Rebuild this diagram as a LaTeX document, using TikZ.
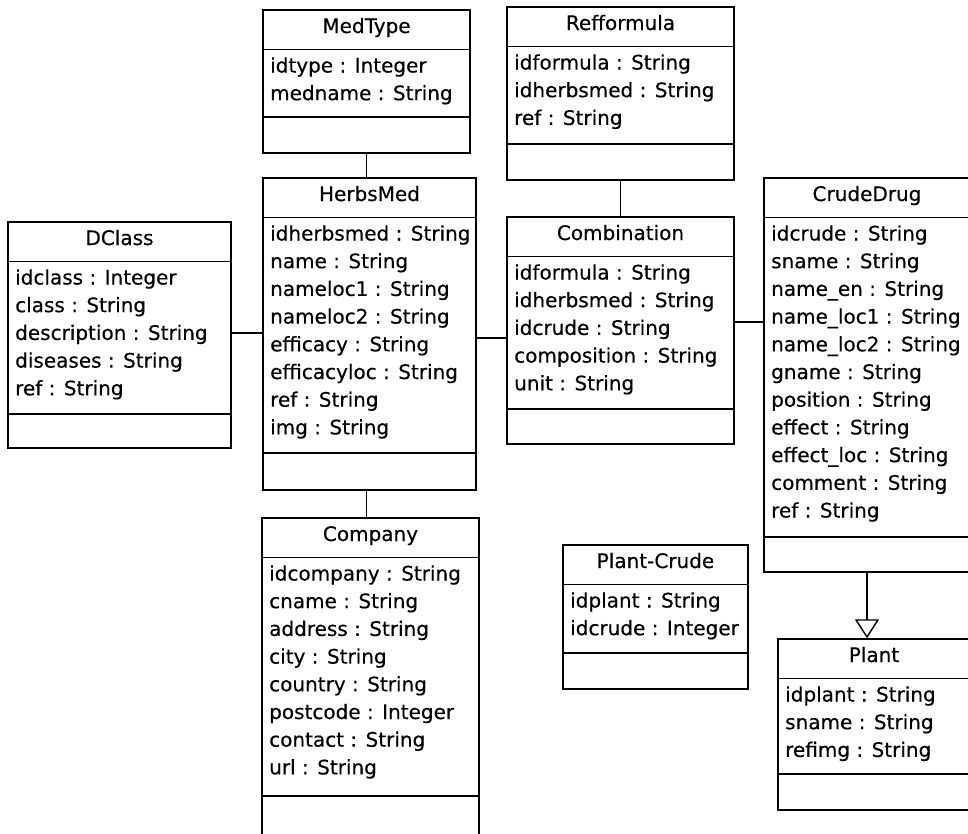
\documentclass[tikz,border=0pt]{standalone}
\usepackage{fontspec}
\setmainfont{DejaVu Sans}
\newfontfamily\umlfont[FakeBold=0.35]{DejaVu Sans}
\usetikzlibrary{arrows.meta,shadows}
\tikzset{
  classbox/.style={draw=black, line width=1.4pt, fill=white, inner sep=0pt,
    drop shadow={opacity=0.25, shadow xshift=1.2pt, shadow yshift=-1.2pt}},
  ctitle/.style={inner sep=0pt, anchor=base, font=\umlfont\fontsize{20}{24}\selectfont},
  cattr/.style={inner sep=0pt, anchor=base west, font=\umlfont\fontsize{20}{24}\selectfont},
  divider/.style={line width=1.4pt},
  assoc/.style={line width=1.4pt},
  gen/.style={line width=1.4pt, -{Triangle[open, width=24pt, length=19pt, fill=white]}}
}
\newcommand{\umlclass}[8]{%
  \node[classbox, minimum width={#4pt-#2pt}, minimum height={#5pt-#3pt}] (#1) at ({(#2+#4)/2},{(#3+#5)/2}) {};
  \node[ctitle] (#1-title) at ({(#2+#4)/2},#3+23) {#7};
  \draw[divider] (#2,#3+39.5) -- (#4,#3+39.5);
  \draw[divider] (#2,#6) -- (#4,#6);
  \foreach \a [count=\i from 0] in {#8} {
    \node[cattr] (#1-a\i) at (#2+7,{#3+39.5+23+27.7*\i}) {\a};
  }
}
\begin{document}
\begin{tikzpicture}[x=1pt,y=-1pt]
\useasboundingbox (0,0) rectangle (968,833);
\clip (0,0) rectangle (968,833);
\fill[white] (0,0) rectangle (968,833);

\umlclass{medtype}{263}{10}{470}{153}{117}{MedType}{idtype : Integer, medname : String}
\umlclass{refformula}{507}{7}{734}{180}{144}{Refformula}{idformula : String, idherbsmed : String, ref : String}
\umlclass{herbs}{263}{178}{476}{490}{453}{HerbsMed}{idherbsmed : String, name : String, nameloc1 : String, nameloc2 : String, efficacy : String, efficacyloc : String, ref : String, img : String}
\umlclass{dclass}{8}{222}{231}{448}{414}{DClass}{idclass : Integer, class : String, description : String, diseases : String, ref : String}
\umlclass{combination}{507}{217}{734}{444}{409}{Combination}{idformula : String, idherbsmed : String, idcrude : String, composition : String, unit : String}
\umlclass{crude}{764}{178}{970}{572}{537}{CrudeDrug}{idcrude : String, sname : String, name\_en : String, name\_loc1 : String, name\_loc2 : String, gname : String, position : String, effect : String, effect\_loc : String, comment : String, ref : String}
\umlclass{company}{262}{518}{479}{845}{796}{Company}{idcompany : String, cname : String, address : String, city : String, country : String, postcode : Integer, contact : String, url : String}
\umlclass{plantcrude}{563}{545}{748}{689}{653}{Plant-Crude}{idplant : String, idcrude : Integer}
\umlclass{plant}{778}{639}{970}{810}{774}{Plant}{idplant : String, sname : String, refimg : String}

\coordinate (r333) at (0,333);
\coordinate (r338) at (0,338);
\coordinate (r322) at (0,322);

\draw[assoc] (medtype.south) -- (medtype.south |- herbs.north);
\draw[assoc] (refformula.south) -- (refformula.south |- combination.north);
\draw[assoc] (dclass.east |- r333) -- (herbs.west |- r333);
\draw[assoc] (herbs.east |- r338) -- (combination.west |- r338);
\draw[assoc] (combination.east |- r322) -- (crude.west |- r322);
\draw[assoc] (herbs.south -| medtype.south) -- (company.north -| medtype.south);
\draw[gen] (crude.south) -- (crude.south |- plant.north);
\end{tikzpicture}
\end{document}
